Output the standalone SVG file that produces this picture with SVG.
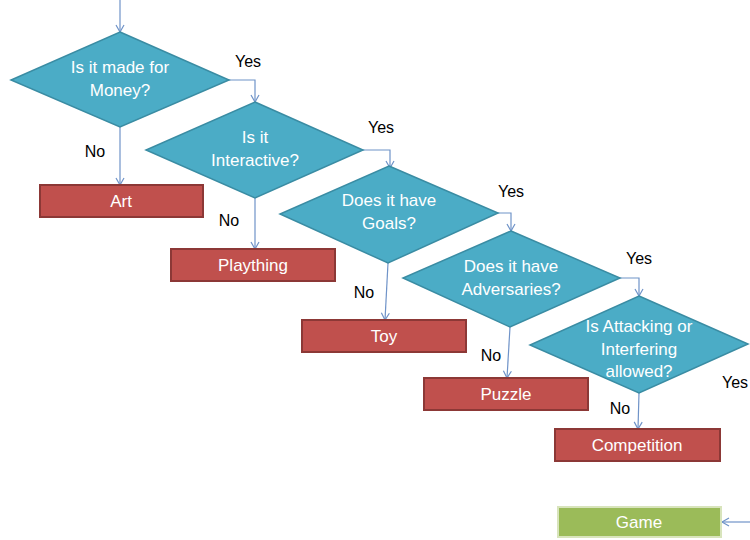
<svg xmlns="http://www.w3.org/2000/svg" width="750" height="540" viewBox="0 0 750 540">
<style>
.dia{fill:#4BACC6;stroke:#3A8CA3;stroke-width:1.5}
.red{fill:#C0504D;stroke:#8C3836;stroke-width:2}
.grn{fill:#9BBB59;stroke:#D8E4BC;stroke-width:2}
.wt{font-family:"Liberation Sans",Arial,sans-serif;font-size:17px;fill:#fff;text-anchor:middle}
.lb{font-family:"Liberation Sans",Arial,sans-serif;font-size:16px;fill:#000;text-anchor:middle}
.cn{fill:none;stroke:#6F93C8;stroke-width:1.2}
</style>
<defs>
<marker id="ah" markerWidth="10" markerHeight="10" refX="8" refY="5" orient="auto" markerUnits="userSpaceOnUse">
<path d="M1,1 L8,5 L1,9" fill="none" stroke="#6F93C8" stroke-width="1.2"/>
</marker>
</defs>
<g id="connectors">
<path class="cn" d="M120,0 V32" marker-end="url(#ah)"/>
<path class="cn" d="M229,80 H255 V102" marker-end="url(#ah)"/>
<path class="cn" d="M120,127 V185" marker-end="url(#ah)"/>
<path class="cn" d="M363,150 H390 V168" marker-end="url(#ah)"/>
<path class="cn" d="M255,198 V249" marker-end="url(#ah)"/>
<path class="cn" d="M498,213 H511 V231" marker-end="url(#ah)"/>
<path class="cn" d="M388,263 L385,320" marker-end="url(#ah)"/>
<path class="cn" d="M620,278 H639 V296" marker-end="url(#ah)"/>
<path class="cn" d="M510,327 L507,378" marker-end="url(#ah)"/>
<path class="cn" d="M639,393 L638,429" marker-end="url(#ah)"/>
<path class="cn" d="M750,522 H722" marker-end="url(#ah)"/>
<text class="lb" x="248" y="67">Yes</text>
<text class="lb" x="95" y="157">No</text>
<text class="lb" x="381" y="133">Yes</text>
<text class="lb" x="229" y="226">No</text>
<text class="lb" x="511" y="197">Yes</text>
<text class="lb" x="364" y="298">No</text>
<text class="lb" x="639" y="264">Yes</text>
<text class="lb" x="491" y="361">No</text>
<text class="lb" x="620" y="414">No</text>
<text class="lb" x="735" y="388">Yes</text>
</g>
<g id="d1">
<polygon class="dia" points="120,32 229,80 120,127 11,80"/>
<text class="wt" x="120" y="73">Is it made for</text>
<text class="wt" x="120" y="96">Money?</text>
</g>
<g id="d2">
<polygon class="dia" points="255,102 363,150 255,198 146,150"/>
<text class="wt" x="255" y="143">Is it</text>
<text class="wt" x="255" y="166">Interactive?</text>
</g>
<g id="d3">
<polygon class="dia" points="389,166 498,213 388,263 280,214"/>
<text class="wt" x="389" y="206">Does it have</text>
<text class="wt" x="389" y="229">Goals?</text>
</g>
<g id="d4">
<polygon class="dia" points="511,231 620,278 510,327 403,278"/>
<text class="wt" x="511" y="272">Does it have</text>
<text class="wt" x="511" y="295">Adversaries?</text>
</g>
<g id="d5">
<polygon class="dia" points="639,296 748,344 639,393 530,345"/>
<text class="wt" x="639" y="332">Is Attacking or</text>
<text class="wt" x="639" y="355">Interfering</text>
<text class="wt" x="639" y="377">allowed?</text>
</g>
<g id="art">
<rect class="red" x="40" y="185" width="163" height="32"/>
<text class="wt" x="121" y="207">Art</text>
</g>
<g id="plaything">
<rect class="red" x="171" y="249" width="164" height="32"/>
<text class="wt" x="253" y="271">Plaything</text>
</g>
<g id="toy">
<rect class="red" x="302" y="320" width="164" height="32"/>
<text class="wt" x="384" y="342">Toy</text>
</g>
<g id="puzzle">
<rect class="red" x="424" y="378" width="164" height="32"/>
<text class="wt" x="506" y="400">Puzzle</text>
</g>
<g id="competition">
<rect class="red" x="555" y="429" width="165" height="32"/>
<text class="wt" x="637" y="451">Competition</text>
</g>
<g id="game">
<rect class="grn" x="558" y="507" width="163" height="30"/>
<text class="wt" x="639" y="528">Game</text>
</g>
</svg>
